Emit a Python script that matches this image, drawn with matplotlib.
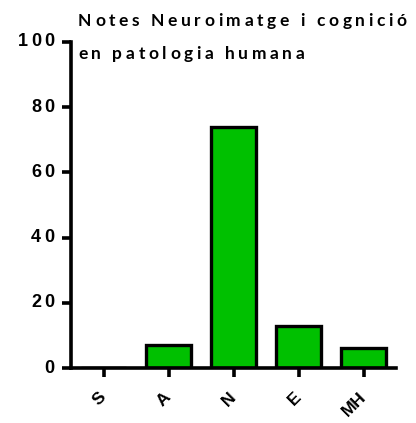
import matplotlib
matplotlib.use("Agg")
import matplotlib.pyplot as plt
from matplotlib import font_manager
from matplotlib.transforms import ScaledTranslation
import numpy as np

categories = ['S', 'A', 'N', 'E', 'MH']
values = [0, 7, 74, 13, 6]
yticks = [0, 20, 40, 60, 80, 100]
title_lines = ['Notes Neuroimatge i cognició', 'en patologia humana']


def pick(family, weights):
    # heaviest installed weight of a family, from the list given
    have = {f.weight for f in font_manager.fontManager.ttflist if f.name == family}
    for w in weights:
        if w in have:
            return family, w
    return 'DejaVu Sans', 'bold'


tick_font, tick_w = pick('Liberation Sans', [700, 'bold'])
title_font, title_w = pick('Lato', [700, 'bold'])

W, H = 416, 423
fig = plt.figure(figsize=(W / 100, H / 100), dpi=100)
ax = fig.add_axes([71 / W, 1 - 368 / H, (396 - 71) / W, (368 - 42) / H])

x = np.arange(len(categories))
ax.bar(x, values, width=0.68, color='#00c000', edgecolor='black', linewidth=2.4)

ax.set_xlim(-0.5, 4.5)
ax.set_ylim(0, 100)
ax.set_yticks(yticks)
ax.set_yticklabels([])
ax.set_xticks(x)
ax.set_xticklabels(categories, rotation=45, ha='right', va='center', rotation_mode='anchor',
                   fontsize=12.5, fontweight=tick_w, family=tick_font)
off = ScaledTranslation(-4 / 100, 0, fig.dpi_scale_trans)
for lbl in ax.get_xticklabels():
    lbl.set_transform(lbl.get_transform() + off)

for s in ['top', 'right']:
    ax.spines[s].set_visible(False)
for s in ['left', 'bottom']:
    ax.spines[s].set_linewidth(2.6)
ax.tick_params(width=2.6, length=6.5)
ax.tick_params(axis='x', pad=13)

fig.canvas.draw()
r = fig.canvas.get_renderer()


def char_width(ch, **kw):
    t = fig.text(0, 0, ch, **kw)
    w = t.get_window_extent(r).width
    t.remove()
    return w


# y tick labels with wide tracking, right aligned next to the ticks
ykw = dict(fontsize=13, fontweight=tick_w, family=tick_font, va='center', ha='left')
for v in yticks:
    s = str(v)
    ypix = fig.transFigure.inverted().transform(ax.transData.transform((0, v)))[1] * H
    ws = [char_width(c, **ykw) for c in s]
    total = sum(ws) + 3 * (len(s) - 1)
    xpix = 54 - total
    for c, w in zip(s, ws):
        fig.text(xpix / W, ypix / H, c, **ykw)
        xpix += w + 3

# title, letter by letter to get the wide tracking
tkw = dict(fontsize=12.5, fontweight=title_w, family=title_font, va='center', ha='left')
for line, ypix in zip(title_lines, [H - 21, H - 54]):
    xpix = 78
    for ch in line:
        w = 4.5 if ch == ' ' else char_width(ch, **tkw)
        fig.text(xpix / W, ypix / H, ch, **tkw)
        xpix += w + 3.6

fig.savefig('out.png', dpi=100)
